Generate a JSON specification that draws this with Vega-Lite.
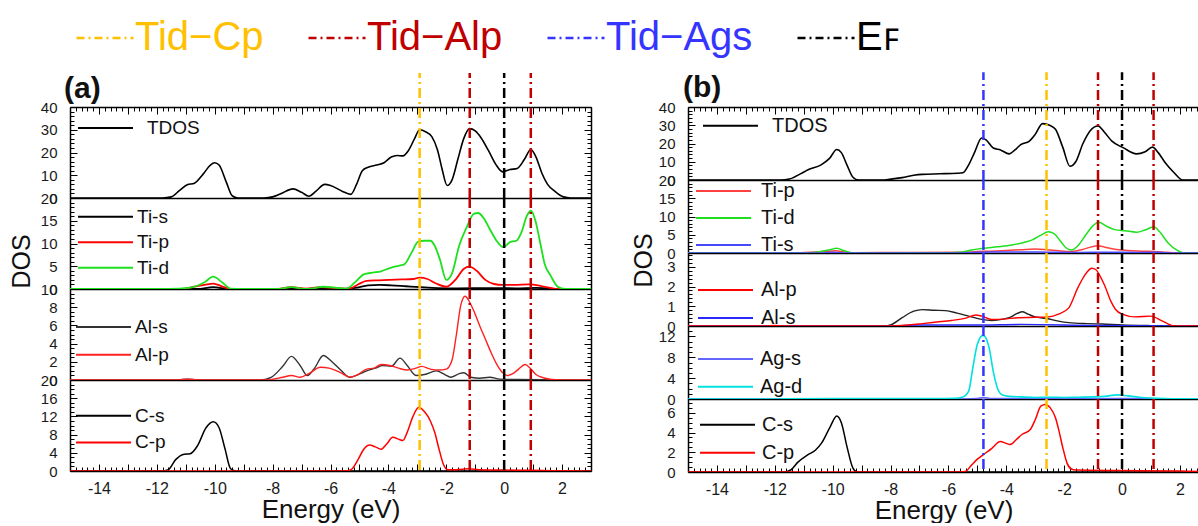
{
"$schema": "https://vega.github.io/schema/vega-lite/v6.json",
"padding": {"left": 8, "top": 8, "right": 0, "bottom": 0},
"datasets": {
"rules": [
{"p":"a","E":-2.92,"t":"Tid−Cp"},{"p":"a","E":-1.19,"t":"Tid−Alp"},{"p":"a","E":0,"t":"EF"},{"p":"a","E":0.92,"t":"Tid−Alp"},
{"p":"b","E":-4.79,"t":"Tid−Ags"},{"p":"b","E":-2.61,"t":"Tid−Cp"},{"p":"b","E":-0.83,"t":"Tid−Alp"},{"p":"b","E":0,"t":"EF"},{"p":"b","E":1.09,"t":"Tid−Alp"}
],
"dos": [
{"g":"aT","s":"TDOS","E":-15,"v":0},{"g":"aT","s":"TDOS","E":-11.8,"v":0},{"g":"aT","s":"TDOS","E":-11.5,"v":0.5},{"g":"aT","s":"TDOS","E":-11.2,"v":3.5},{"g":"aT","s":"TDOS","E":-10.95,"v":5.8},{"g":"aT","s":"TDOS","E":-10.7,"v":6.5},{"g":"aT","s":"TDOS","E":-10.4,"v":10.5},{"g":"aT","s":"TDOS","E":-10.15,"v":14.5},{"g":"aT","s":"TDOS","E":-10,"v":15.5},{"g":"aT","s":"TDOS","E":-9.85,"v":14.5},{"g":"aT","s":"TDOS","E":-9.6,"v":7},{"g":"aT","s":"TDOS","E":-9.4,"v":1},{"g":"aT","s":"TDOS","E":-9.2,"v":0},{"g":"aT","s":"TDOS","E":-8.3,"v":0},{"g":"aT","s":"TDOS","E":-8,"v":0.5},{"g":"aT","s":"TDOS","E":-7.7,"v":2},{"g":"aT","s":"TDOS","E":-7.3,"v":4},{"g":"aT","s":"TDOS","E":-7,"v":2.5},{"g":"aT","s":"TDOS","E":-6.75,"v":0.8},{"g":"aT","s":"TDOS","E":-6.5,"v":3},{"g":"aT","s":"TDOS","E":-6.2,"v":6},{"g":"aT","s":"TDOS","E":-6,"v":5.5},{"g":"aT","s":"TDOS","E":-5.6,"v":3},{"g":"aT","s":"TDOS","E":-5.3,"v":1.6},{"g":"aT","s":"TDOS","E":-5.1,"v":6},{"g":"aT","s":"TDOS","E":-4.9,"v":12},{"g":"aT","s":"TDOS","E":-4.7,"v":13.5},{"g":"aT","s":"TDOS","E":-4.4,"v":14.5},{"g":"aT","s":"TDOS","E":-4.15,"v":15.5},{"g":"aT","s":"TDOS","E":-3.9,"v":18},{"g":"aT","s":"TDOS","E":-3.7,"v":18.7},{"g":"aT","s":"TDOS","E":-3.5,"v":18.5},{"g":"aT","s":"TDOS","E":-3.3,"v":21},{"g":"aT","s":"TDOS","E":-3.1,"v":26},{"g":"aT","s":"TDOS","E":-2.92,"v":30},{"g":"aT","s":"TDOS","E":-2.7,"v":29},{"g":"aT","s":"TDOS","E":-2.5,"v":27},{"g":"aT","s":"TDOS","E":-2.3,"v":21},{"g":"aT","s":"TDOS","E":-2.15,"v":13},{"g":"aT","s":"TDOS","E":-1.97,"v":5.5},{"g":"aT","s":"TDOS","E":-1.8,"v":8},{"g":"aT","s":"TDOS","E":-1.6,"v":17},{"g":"aT","s":"TDOS","E":-1.4,"v":26},{"g":"aT","s":"TDOS","E":-1.2,"v":30.5},{"g":"aT","s":"TDOS","E":-1,"v":29.5},{"g":"aT","s":"TDOS","E":-0.8,"v":26.5},{"g":"aT","s":"TDOS","E":-0.55,"v":21},{"g":"aT","s":"TDOS","E":-0.3,"v":15},{"g":"aT","s":"TDOS","E":-0.05,"v":11.5},{"g":"aT","s":"TDOS","E":0.2,"v":12.5},{"g":"aT","s":"TDOS","E":0.45,"v":13},{"g":"aT","s":"TDOS","E":0.7,"v":17},{"g":"aT","s":"TDOS","E":0.92,"v":21.3},{"g":"aT","s":"TDOS","E":1.1,"v":18},{"g":"aT","s":"TDOS","E":1.3,"v":11},{"g":"aT","s":"TDOS","E":1.5,"v":6},{"g":"aT","s":"TDOS","E":1.75,"v":3},{"g":"aT","s":"TDOS","E":2.05,"v":0.5},{"g":"aT","s":"TDOS","E":2.3,"v":0},{"g":"aT","s":"TDOS","E":3,"v":0},

{"g":"aTi","s":"Ti-s","E":-15,"v":0},{"g":"aTi","s":"Ti-s","E":-10.6,"v":0},{"g":"aTi","s":"Ti-s","E":-10.05,"v":0.4},{"g":"aTi","s":"Ti-s","E":-9.5,"v":0},{"g":"aTi","s":"Ti-s","E":-5.6,"v":0},{"g":"aTi","s":"Ti-s","E":-5.1,"v":0.3},{"g":"aTi","s":"Ti-s","E":-4.7,"v":0.8},{"g":"aTi","s":"Ti-s","E":-4.3,"v":0.9},{"g":"aTi","s":"Ti-s","E":-3.9,"v":0.8},{"g":"aTi","s":"Ti-s","E":-3.4,"v":0.6},{"g":"aTi","s":"Ti-s","E":-2.9,"v":0.4},{"g":"aTi","s":"Ti-s","E":-2.3,"v":0.2},{"g":"aTi","s":"Ti-s","E":-1.6,"v":0.15},{"g":"aTi","s":"Ti-s","E":-0.6,"v":0.2},{"g":"aTi","s":"Ti-s","E":0.4,"v":0.15},{"g":"aTi","s":"Ti-s","E":1.1,"v":0.25},{"g":"aTi","s":"Ti-s","E":1.5,"v":0.1},{"g":"aTi","s":"Ti-s","E":1.9,"v":0},{"g":"aTi","s":"Ti-s","E":3,"v":0},

{"g":"aTi","s":"Ti-p","E":-15,"v":0},{"g":"aTi","s":"Ti-p","E":-11.1,"v":0},{"g":"aTi","s":"Ti-p","E":-10.7,"v":0.5},{"g":"aTi","s":"Ti-p","E":-10.35,"v":0.9},{"g":"aTi","s":"Ti-p","E":-10.05,"v":1.2},{"g":"aTi","s":"Ti-p","E":-9.75,"v":0.6},{"g":"aTi","s":"Ti-p","E":-9.45,"v":0},{"g":"aTi","s":"Ti-p","E":-7.9,"v":0},{"g":"aTi","s":"Ti-p","E":-7.35,"v":0.4},{"g":"aTi","s":"Ti-p","E":-6.85,"v":0.1},{"g":"aTi","s":"Ti-p","E":-6.35,"v":0.4},{"g":"aTi","s":"Ti-p","E":-5.85,"v":0.2},{"g":"aTi","s":"Ti-p","E":-5.35,"v":0.1},{"g":"aTi","s":"Ti-p","E":-5.05,"v":1},{"g":"aTi","s":"Ti-p","E":-4.75,"v":1.8},{"g":"aTi","s":"Ti-p","E":-4.35,"v":1.9},{"g":"aTi","s":"Ti-p","E":-3.95,"v":2},{"g":"aTi","s":"Ti-p","E":-3.55,"v":2.1},{"g":"aTi","s":"Ti-p","E":-3.15,"v":2.2},{"g":"aTi","s":"Ti-p","E":-2.92,"v":2.5},{"g":"aTi","s":"Ti-p","E":-2.65,"v":2.2},{"g":"aTi","s":"Ti-p","E":-2.35,"v":1.2},{"g":"aTi","s":"Ti-p","E":-2,"v":0.5},{"g":"aTi","s":"Ti-p","E":-1.65,"v":2.3},{"g":"aTi","s":"Ti-p","E":-1.4,"v":4.4},{"g":"aTi","s":"Ti-p","E":-1.2,"v":4.9},{"g":"aTi","s":"Ti-p","E":-0.95,"v":4},{"g":"aTi","s":"Ti-p","E":-0.65,"v":2},{"g":"aTi","s":"Ti-p","E":-0.35,"v":1.1},{"g":"aTi","s":"Ti-p","E":-0.05,"v":0.9},{"g":"aTi","s":"Ti-p","E":0.35,"v":0.9},{"g":"aTi","s":"Ti-p","E":0.85,"v":1},{"g":"aTi","s":"Ti-p","E":1.25,"v":0.7},{"g":"aTi","s":"Ti-p","E":1.55,"v":0.3},{"g":"aTi","s":"Ti-p","E":1.85,"v":0},{"g":"aTi","s":"Ti-p","E":3,"v":0},

{"g":"aTi","s":"Ti-d","E":-15,"v":0},{"g":"aTi","s":"Ti-d","E":-11.6,"v":0},{"g":"aTi","s":"Ti-d","E":-10.85,"v":0.3},{"g":"aTi","s":"Ti-d","E":-10.35,"v":1.5},{"g":"aTi","s":"Ti-d","E":-10.05,"v":2.7},{"g":"aTi","s":"Ti-d","E":-9.75,"v":1.5},{"g":"aTi","s":"Ti-d","E":-9.45,"v":0.1},{"g":"aTi","s":"Ti-d","E":-9.05,"v":0},{"g":"aTi","s":"Ti-d","E":-7.85,"v":0},{"g":"aTi","s":"Ti-d","E":-7.35,"v":0.4},{"g":"aTi","s":"Ti-d","E":-6.85,"v":0},{"g":"aTi","s":"Ti-d","E":-6.55,"v":0.2},{"g":"aTi","s":"Ti-d","E":-6.25,"v":0.5},{"g":"aTi","s":"Ti-d","E":-5.85,"v":0.3},{"g":"aTi","s":"Ti-d","E":-5.45,"v":0.1},{"g":"aTi","s":"Ti-d","E":-5.15,"v":1.5},{"g":"aTi","s":"Ti-d","E":-4.85,"v":3.2},{"g":"aTi","s":"Ti-d","E":-4.55,"v":3.6},{"g":"aTi","s":"Ti-d","E":-4.25,"v":3.9},{"g":"aTi","s":"Ti-d","E":-3.95,"v":4.6},{"g":"aTi","s":"Ti-d","E":-3.65,"v":5.1},{"g":"aTi","s":"Ti-d","E":-3.45,"v":5.4},{"g":"aTi","s":"Ti-d","E":-3.2,"v":8},{"g":"aTi","s":"Ti-d","E":-2.97,"v":10.4},{"g":"aTi","s":"Ti-d","E":-2.75,"v":10.6},{"g":"aTi","s":"Ti-d","E":-2.55,"v":10.6},{"g":"aTi","s":"Ti-d","E":-2.4,"v":9.5},{"g":"aTi","s":"Ti-d","E":-2.22,"v":6.5},{"g":"aTi","s":"Ti-d","E":-2,"v":2},{"g":"aTi","s":"Ti-d","E":-1.8,"v":3.5},{"g":"aTi","s":"Ti-d","E":-1.55,"v":9.6},{"g":"aTi","s":"Ti-d","E":-1.3,"v":13.5},{"g":"aTi","s":"Ti-d","E":-1.05,"v":16.5},{"g":"aTi","s":"Ti-d","E":-0.9,"v":16.7},{"g":"aTi","s":"Ti-d","E":-0.7,"v":15.5},{"g":"aTi","s":"Ti-d","E":-0.5,"v":13.2},{"g":"aTi","s":"Ti-d","E":-0.25,"v":10.5},{"g":"aTi","s":"Ti-d","E":-0.03,"v":9.2},{"g":"aTi","s":"Ti-d","E":0.2,"v":10.3},{"g":"aTi","s":"Ti-d","E":0.42,"v":10.6},{"g":"aTi","s":"Ti-d","E":0.6,"v":12.5},{"g":"aTi","s":"Ti-d","E":0.78,"v":16},{"g":"aTi","s":"Ti-d","E":0.93,"v":17.2},{"g":"aTi","s":"Ti-d","E":1.08,"v":15},{"g":"aTi","s":"Ti-d","E":1.25,"v":10},{"g":"aTi","s":"Ti-d","E":1.4,"v":5.5},{"g":"aTi","s":"Ti-d","E":1.6,"v":3},{"g":"aTi","s":"Ti-d","E":1.85,"v":0.5},{"g":"aTi","s":"Ti-d","E":2.1,"v":0},{"g":"aTi","s":"Ti-d","E":3,"v":0},

{"g":"aAl","s":"Al-s","E":-15,"v":0},{"g":"aAl","s":"Al-s","E":-11.25,"v":0},{"g":"aAl","s":"Al-s","E":-10.95,"v":0.1},{"g":"aAl","s":"Al-s","E":-10.6,"v":0},{"g":"aAl","s":"Al-s","E":-8.45,"v":0},{"g":"aAl","s":"Al-s","E":-8.05,"v":0.3},{"g":"aAl","s":"Al-s","E":-7.65,"v":1.5},{"g":"aAl","s":"Al-s","E":-7.35,"v":2.6},{"g":"aAl","s":"Al-s","E":-7.05,"v":1.6},{"g":"aAl","s":"Al-s","E":-6.8,"v":0.5},{"g":"aAl","s":"Al-s","E":-6.55,"v":1.3},{"g":"aAl","s":"Al-s","E":-6.25,"v":2.7},{"g":"aAl","s":"Al-s","E":-5.95,"v":2},{"g":"aAl","s":"Al-s","E":-5.65,"v":1.1},{"g":"aAl","s":"Al-s","E":-5.33,"v":0.3},{"g":"aAl","s":"Al-s","E":-5.05,"v":0.6},{"g":"aAl","s":"Al-s","E":-4.75,"v":1},{"g":"aAl","s":"Al-s","E":-4.45,"v":1.3},{"g":"aAl","s":"Al-s","E":-4.2,"v":1.6},{"g":"aAl","s":"Al-s","E":-3.9,"v":1.5},{"g":"aAl","s":"Al-s","E":-3.6,"v":2.4},{"g":"aAl","s":"Al-s","E":-3.35,"v":1.6},{"g":"aAl","s":"Al-s","E":-3.05,"v":0.5},{"g":"aAl","s":"Al-s","E":-2.75,"v":0.6},{"g":"aAl","s":"Al-s","E":-2.35,"v":1},{"g":"aAl","s":"Al-s","E":-2.05,"v":0.6},{"g":"aAl","s":"Al-s","E":-1.85,"v":0.3},{"g":"aAl","s":"Al-s","E":-1.55,"v":0.7},{"g":"aAl","s":"Al-s","E":-1.4,"v":0.8},{"g":"aAl","s":"Al-s","E":-1.15,"v":0.3},{"g":"aAl","s":"Al-s","E":-0.85,"v":0.2},{"g":"aAl","s":"Al-s","E":-0.5,"v":0.3},{"g":"aAl","s":"Al-s","E":-0.15,"v":0.1},{"g":"aAl","s":"Al-s","E":0.5,"v":0.05},{"g":"aAl","s":"Al-s","E":1.5,"v":0.02},{"g":"aAl","s":"Al-s","E":3,"v":0},

{"g":"aAl","s":"Al-p","E":-15,"v":0},{"g":"aAl","s":"Al-p","E":-11.25,"v":0},{"g":"aAl","s":"Al-p","E":-10.95,"v":0.1},{"g":"aAl","s":"Al-p","E":-10.6,"v":0},{"g":"aAl","s":"Al-p","E":-8.25,"v":0},{"g":"aAl","s":"Al-p","E":-7.65,"v":0.3},{"g":"aAl","s":"Al-p","E":-7.35,"v":0.5},{"g":"aAl","s":"Al-p","E":-7.05,"v":0.3},{"g":"aAl","s":"Al-p","E":-6.75,"v":0.7},{"g":"aAl","s":"Al-p","E":-6.35,"v":1.4},{"g":"aAl","s":"Al-p","E":-6.05,"v":1.3},{"g":"aAl","s":"Al-p","E":-5.65,"v":0.8},{"g":"aAl","s":"Al-p","E":-5.33,"v":0.3},{"g":"aAl","s":"Al-p","E":-5.05,"v":0.6},{"g":"aAl","s":"Al-p","E":-4.75,"v":1.2},{"g":"aAl","s":"Al-p","E":-4.5,"v":1.3},{"g":"aAl","s":"Al-p","E":-4.25,"v":1.7},{"g":"aAl","s":"Al-p","E":-3.95,"v":1.6},{"g":"aAl","s":"Al-p","E":-3.65,"v":1.3},{"g":"aAl","s":"Al-p","E":-3.35,"v":1.1},{"g":"aAl","s":"Al-p","E":-3.05,"v":1.3},{"g":"aAl","s":"Al-p","E":-2.85,"v":1.5},{"g":"aAl","s":"Al-p","E":-2.55,"v":1.2},{"g":"aAl","s":"Al-p","E":-2.25,"v":1.1},{"g":"aAl","s":"Al-p","E":-2,"v":1.2},{"g":"aAl","s":"Al-p","E":-1.8,"v":2.2},{"g":"aAl","s":"Al-p","E":-1.65,"v":5},{"g":"aAl","s":"Al-p","E":-1.5,"v":8.2},{"g":"aAl","s":"Al-p","E":-1.35,"v":9.2},{"g":"aAl","s":"Al-p","E":-1.2,"v":8.6},{"g":"aAl","s":"Al-p","E":-1.05,"v":7.6},{"g":"aAl","s":"Al-p","E":-0.85,"v":6},{"g":"aAl","s":"Al-p","E":-0.65,"v":4.5},{"g":"aAl","s":"Al-p","E":-0.45,"v":3},{"g":"aAl","s":"Al-p","E":-0.25,"v":1.7},{"g":"aAl","s":"Al-p","E":-0.05,"v":0.8},{"g":"aAl","s":"Al-p","E":0.1,"v":0.5},{"g":"aAl","s":"Al-p","E":0.3,"v":0.7},{"g":"aAl","s":"Al-p","E":0.5,"v":1.2},{"g":"aAl","s":"Al-p","E":0.72,"v":1.7},{"g":"aAl","s":"Al-p","E":0.9,"v":1.3},{"g":"aAl","s":"Al-p","E":1.1,"v":0.6},{"g":"aAl","s":"Al-p","E":1.35,"v":0.25},{"g":"aAl","s":"Al-p","E":1.65,"v":0.05},{"g":"aAl","s":"Al-p","E":1.95,"v":0},{"g":"aAl","s":"Al-p","E":3,"v":0},

{"g":"aC","s":"C-s","E":-15,"v":0},{"g":"aC","s":"C-s","E":-11.85,"v":0},{"g":"aC","s":"C-s","E":-11.6,"v":0.3},{"g":"aC","s":"C-s","E":-11.35,"v":2.5},{"g":"aC","s":"C-s","E":-11.05,"v":3.7},{"g":"aC","s":"C-s","E":-10.85,"v":3.8},{"g":"aC","s":"C-s","E":-10.6,"v":5.5},{"g":"aC","s":"C-s","E":-10.3,"v":9.5},{"g":"aC","s":"C-s","E":-10.05,"v":10.8},{"g":"aC","s":"C-s","E":-9.85,"v":9.5},{"g":"aC","s":"C-s","E":-9.65,"v":5},{"g":"aC","s":"C-s","E":-9.45,"v":0.5},{"g":"aC","s":"C-s","E":-9.25,"v":0},{"g":"aC","s":"C-s","E":3,"v":0},

{"g":"aC","s":"C-p","E":-15,"v":0},{"g":"aC","s":"C-p","E":-5.45,"v":0},{"g":"aC","s":"C-p","E":-5.25,"v":0.5},{"g":"aC","s":"C-p","E":-5.05,"v":2.5},{"g":"aC","s":"C-p","E":-4.85,"v":4.8},{"g":"aC","s":"C-p","E":-4.65,"v":5.7},{"g":"aC","s":"C-p","E":-4.45,"v":5.3},{"g":"aC","s":"C-p","E":-4.25,"v":4.8},{"g":"aC","s":"C-p","E":-4.05,"v":6},{"g":"aC","s":"C-p","E":-3.85,"v":7.4},{"g":"aC","s":"C-p","E":-3.65,"v":7},{"g":"aC","s":"C-p","E":-3.5,"v":6.7},{"g":"aC","s":"C-p","E":-3.35,"v":8.5},{"g":"aC","s":"C-p","E":-3.15,"v":12},{"g":"aC","s":"C-p","E":-2.95,"v":14},{"g":"aC","s":"C-p","E":-2.75,"v":13},{"g":"aC","s":"C-p","E":-2.55,"v":11},{"g":"aC","s":"C-p","E":-2.4,"v":8.5},{"g":"aC","s":"C-p","E":-2.25,"v":4.8},{"g":"aC","s":"C-p","E":-2.1,"v":1.5},{"g":"aC","s":"C-p","E":-1.95,"v":0.3},{"g":"aC","s":"C-p","E":-1.65,"v":0.3},{"g":"aC","s":"C-p","E":-1.25,"v":0.5},{"g":"aC","s":"C-p","E":-0.85,"v":0.3},{"g":"aC","s":"C-p","E":0,"v":0.2},{"g":"aC","s":"C-p","E":1,"v":0.15},{"g":"aC","s":"C-p","E":2,"v":0.05},{"g":"aC","s":"C-p","E":3,"v":0},

{"g":"bT","s":"TDOS","E":-15,"v":0},{"g":"bT","s":"TDOS","E":-11.8,"v":0},{"g":"bT","s":"TDOS","E":-11.5,"v":0.5},{"g":"bT","s":"TDOS","E":-11.1,"v":3.5},{"g":"bT","s":"TDOS","E":-10.85,"v":5.6},{"g":"bT","s":"TDOS","E":-10.4,"v":8.3},{"g":"bT","s":"TDOS","E":-10.1,"v":12},{"g":"bT","s":"TDOS","E":-9.86,"v":16.7},{"g":"bT","s":"TDOS","E":-9.7,"v":15},{"g":"bT","s":"TDOS","E":-9.5,"v":8},{"g":"bT","s":"TDOS","E":-9.3,"v":1.5},{"g":"bT","s":"TDOS","E":-9.1,"v":0},{"g":"bT","s":"TDOS","E":-8.3,"v":0},{"g":"bT","s":"TDOS","E":-8,"v":0.5},{"g":"bT","s":"TDOS","E":-7.6,"v":1.3},{"g":"bT","s":"TDOS","E":-7.2,"v":2.6},{"g":"bT","s":"TDOS","E":-6.9,"v":3.1},{"g":"bT","s":"TDOS","E":-6.3,"v":3.4},{"g":"bT","s":"TDOS","E":-5.7,"v":3.7},{"g":"bT","s":"TDOS","E":-5.5,"v":4},{"g":"bT","s":"TDOS","E":-5.3,"v":8.3},{"g":"bT","s":"TDOS","E":-5.1,"v":15},{"g":"bT","s":"TDOS","E":-4.85,"v":23},{"g":"bT","s":"TDOS","E":-4.7,"v":22},{"g":"bT","s":"TDOS","E":-4.45,"v":17.5},{"g":"bT","s":"TDOS","E":-4.2,"v":16.5},{"g":"bT","s":"TDOS","E":-3.9,"v":14.3},{"g":"bT","s":"TDOS","E":-3.7,"v":16.5},{"g":"bT","s":"TDOS","E":-3.5,"v":19.4},{"g":"bT","s":"TDOS","E":-3.2,"v":21.3},{"g":"bT","s":"TDOS","E":-3,"v":25},{"g":"bT","s":"TDOS","E":-2.75,"v":30.9},{"g":"bT","s":"TDOS","E":-2.5,"v":30},{"g":"bT","s":"TDOS","E":-2.3,"v":27.8},{"g":"bT","s":"TDOS","E":-2.05,"v":18},{"g":"bT","s":"TDOS","E":-1.8,"v":7.5},{"g":"bT","s":"TDOS","E":-1.6,"v":10},{"g":"bT","s":"TDOS","E":-1.35,"v":20},{"g":"bT","s":"TDOS","E":-1.1,"v":27},{"g":"bT","s":"TDOS","E":-0.83,"v":29.6},{"g":"bT","s":"TDOS","E":-0.6,"v":26},{"g":"bT","s":"TDOS","E":-0.35,"v":21.3},{"g":"bT","s":"TDOS","E":0.05,"v":17.6},{"g":"bT","s":"TDOS","E":0.5,"v":14.3},{"g":"bT","s":"TDOS","E":0.8,"v":15.5},{"g":"bT","s":"TDOS","E":1.05,"v":18},{"g":"bT","s":"TDOS","E":1.25,"v":15},{"g":"bT","s":"TDOS","E":1.5,"v":9.3},{"g":"bT","s":"TDOS","E":1.8,"v":4},{"g":"bT","s":"TDOS","E":2.1,"v":0},{"g":"bT","s":"TDOS","E":3,"v":0},

{"g":"bTi","s":"Ti-p","E":-15,"v":0},{"g":"bTi","s":"Ti-p","E":-11.2,"v":0},{"g":"bTi","s":"Ti-p","E":-10.8,"v":0.2},{"g":"bTi","s":"Ti-p","E":-10.3,"v":0.4},{"g":"bTi","s":"Ti-p","E":-9.9,"v":0.6},{"g":"bTi","s":"Ti-p","E":-9.6,"v":0.3},{"g":"bTi","s":"Ti-p","E":-9.3,"v":0.1},{"g":"bTi","s":"Ti-p","E":-7.5,"v":0.15},{"g":"bTi","s":"Ti-p","E":-5.5,"v":0.2},{"g":"bTi","s":"Ti-p","E":-5,"v":0.4},{"g":"bTi","s":"Ti-p","E":-4.5,"v":0.5},{"g":"bTi","s":"Ti-p","E":-4,"v":0.7},{"g":"bTi","s":"Ti-p","E":-3.5,"v":0.9},{"g":"bTi","s":"Ti-p","E":-3,"v":1.1},{"g":"bTi","s":"Ti-p","E":-2.6,"v":0.9},{"g":"bTi","s":"Ti-p","E":-2.2,"v":0.6},{"g":"bTi","s":"Ti-p","E":-1.8,"v":0.4},{"g":"bTi","s":"Ti-p","E":-1.4,"v":0.9},{"g":"bTi","s":"Ti-p","E":-1,"v":1.8},{"g":"bTi","s":"Ti-p","E":-0.85,"v":2},{"g":"bTi","s":"Ti-p","E":-0.6,"v":1.6},{"g":"bTi","s":"Ti-p","E":-0.25,"v":1},{"g":"bTi","s":"Ti-p","E":0.2,"v":0.7},{"g":"bTi","s":"Ti-p","E":0.7,"v":0.5},{"g":"bTi","s":"Ti-p","E":1.1,"v":0.4},{"g":"bTi","s":"Ti-p","E":1.5,"v":0.2},{"g":"bTi","s":"Ti-p","E":1.9,"v":0},{"g":"bTi","s":"Ti-p","E":3,"v":0},

{"g":"bTi","s":"Ti-d","E":-15,"v":0},{"g":"bTi","s":"Ti-d","E":-11,"v":0},{"g":"bTi","s":"Ti-d","E":-10.5,"v":0.3},{"g":"bTi","s":"Ti-d","E":-10.1,"v":0.9},{"g":"bTi","s":"Ti-d","E":-9.86,"v":1.3},{"g":"bTi","s":"Ti-d","E":-9.6,"v":0.6},{"g":"bTi","s":"Ti-d","E":-9.3,"v":0},{"g":"bTi","s":"Ti-d","E":-7.8,"v":0},{"g":"bTi","s":"Ti-d","E":-7.5,"v":0.1},{"g":"bTi","s":"Ti-d","E":-6,"v":0.1},{"g":"bTi","s":"Ti-d","E":-5.5,"v":0.3},{"g":"bTi","s":"Ti-d","E":-5.2,"v":0.8},{"g":"bTi","s":"Ti-d","E":-4.8,"v":1.3},{"g":"bTi","s":"Ti-d","E":-4.3,"v":1.7},{"g":"bTi","s":"Ti-d","E":-3.8,"v":2.2},{"g":"bTi","s":"Ti-d","E":-3.4,"v":2.9},{"g":"bTi","s":"Ti-d","E":-3.1,"v":3.6},{"g":"bTi","s":"Ti-d","E":-2.8,"v":4.9},{"g":"bTi","s":"Ti-d","E":-2.55,"v":5.8},{"g":"bTi","s":"Ti-d","E":-2.35,"v":5.3},{"g":"bTi","s":"Ti-d","E":-2.15,"v":3.5},{"g":"bTi","s":"Ti-d","E":-1.95,"v":1.5},{"g":"bTi","s":"Ti-d","E":-1.75,"v":0.8},{"g":"bTi","s":"Ti-d","E":-1.5,"v":2.2},{"g":"bTi","s":"Ti-d","E":-1.25,"v":5},{"g":"bTi","s":"Ti-d","E":-1,"v":7.5},{"g":"bTi","s":"Ti-d","E":-0.8,"v":8.4},{"g":"bTi","s":"Ti-d","E":-0.55,"v":7.4},{"g":"bTi","s":"Ti-d","E":-0.25,"v":6.4},{"g":"bTi","s":"Ti-d","E":0.1,"v":6.1},{"g":"bTi","s":"Ti-d","E":0.5,"v":5.7},{"g":"bTi","s":"Ti-d","E":0.8,"v":6.3},{"g":"bTi","s":"Ti-d","E":1.1,"v":7.2},{"g":"bTi","s":"Ti-d","E":1.3,"v":5.8},{"g":"bTi","s":"Ti-d","E":1.6,"v":2.7},{"g":"bTi","s":"Ti-d","E":1.9,"v":0.8},{"g":"bTi","s":"Ti-d","E":2.1,"v":0.1},{"g":"bTi","s":"Ti-d","E":2.3,"v":0},{"g":"bTi","s":"Ti-d","E":3,"v":0},

{"g":"bTi","s":"Ti-s","E":-15,"v":0},{"g":"bTi","s":"Ti-s","E":-10.5,"v":0},{"g":"bTi","s":"Ti-s","E":-10,"v":0.2},{"g":"bTi","s":"Ti-s","E":-9.5,"v":0},{"g":"bTi","s":"Ti-s","E":-5.5,"v":0},{"g":"bTi","s":"Ti-s","E":-5,"v":0.2},{"g":"bTi","s":"Ti-s","E":-4.5,"v":0.3},{"g":"bTi","s":"Ti-s","E":-3.5,"v":0.3},{"g":"bTi","s":"Ti-s","E":-2.5,"v":0.2},{"g":"bTi","s":"Ti-s","E":-1.5,"v":0.15},{"g":"bTi","s":"Ti-s","E":-0.5,"v":0.2},{"g":"bTi","s":"Ti-s","E":0.5,"v":0.15},{"g":"bTi","s":"Ti-s","E":1.2,"v":0.2},{"g":"bTi","s":"Ti-s","E":1.8,"v":0},{"g":"bTi","s":"Ti-s","E":3,"v":0},

{"g":"bAl","s":"Al","E":-15,"v":0},{"g":"bAl","s":"Al","E":-8.2,"v":0},{"g":"bAl","s":"Al","E":-8,"v":0.05},{"g":"bAl","s":"Al","E":-7.6,"v":0.42},{"g":"bAl","s":"Al","E":-7.2,"v":0.75},{"g":"bAl","s":"Al","E":-6.9,"v":0.83},{"g":"bAl","s":"Al","E":-6.5,"v":0.8},{"g":"bAl","s":"Al","E":-6.1,"v":0.78},{"g":"bAl","s":"Al","E":-5.7,"v":0.65},{"g":"bAl","s":"Al","E":-5.3,"v":0.5},{"g":"bAl","s":"Al","E":-4.9,"v":0.35},{"g":"bAl","s":"Al","E":-4.5,"v":0.28},{"g":"bAl","s":"Al","E":-4.1,"v":0.35},{"g":"bAl","s":"Al","E":-3.9,"v":0.42},{"g":"bAl","s":"Al","E":-3.6,"v":0.65},{"g":"bAl","s":"Al","E":-3.45,"v":0.72},{"g":"bAl","s":"Al","E":-3.25,"v":0.6},{"g":"bAl","s":"Al","E":-3,"v":0.46},{"g":"bAl","s":"Al","E":-2.6,"v":0.38},{"g":"bAl","s":"Al","E":-2.2,"v":0.25},{"g":"bAl","s":"Al","E":-1.84,"v":0.17},{"g":"bAl","s":"Al","E":-1.2,"v":0.12},{"g":"bAl","s":"Al","E":-0.69,"v":0.1},{"g":"bAl","s":"Al","E":0,"v":0.05},{"g":"bAl","s":"Al","E":1,"v":0.02},{"g":"bAl","s":"Al","E":3,"v":0},

{"g":"bAl","s":"Al-s","E":-15,"v":0},{"g":"bAl","s":"Al-s","E":-8,"v":0},{"g":"bAl","s":"Al-s","E":-7,"v":0.05},{"g":"bAl","s":"Al-s","E":-5,"v":0.05},{"g":"bAl","s":"Al-s","E":-3.5,"v":0.08},{"g":"bAl","s":"Al-s","E":-1,"v":0.03},{"g":"bAl","s":"Al-s","E":3,"v":0},

{"g":"bAl","s":"Al-p","E":-15,"v":0},{"g":"bAl","s":"Al-p","E":-12.3,"v":0},{"g":"bAl","s":"Al-p","E":-12,"v":0.03},{"g":"bAl","s":"Al-p","E":-11.7,"v":0},{"g":"bAl","s":"Al-p","E":-8.5,"v":0},{"g":"bAl","s":"Al-p","E":-7.6,"v":0.03},{"g":"bAl","s":"Al-p","E":-6.9,"v":0.12},{"g":"bAl","s":"Al-p","E":-6.4,"v":0.2},{"g":"bAl","s":"Al-p","E":-5.9,"v":0.28},{"g":"bAl","s":"Al-p","E":-5.4,"v":0.4},{"g":"bAl","s":"Al-p","E":-5.05,"v":0.56},{"g":"bAl","s":"Al-p","E":-4.85,"v":0.5},{"g":"bAl","s":"Al-p","E":-4.5,"v":0.33},{"g":"bAl","s":"Al-p","E":-4.1,"v":0.35},{"g":"bAl","s":"Al-p","E":-3.6,"v":0.42},{"g":"bAl","s":"Al-p","E":-3,"v":0.44},{"g":"bAl","s":"Al-p","E":-2.54,"v":0.46},{"g":"bAl","s":"Al-p","E":-2.2,"v":0.6},{"g":"bAl","s":"Al-p","E":-1.84,"v":0.92},{"g":"bAl","s":"Al-p","E":-1.53,"v":1.93},{"g":"bAl","s":"Al-p","E":-1.34,"v":2.45},{"g":"bAl","s":"Al-p","E":-1.2,"v":2.75},{"g":"bAl","s":"Al-p","E":-1.05,"v":2.93},{"g":"bAl","s":"Al-p","E":-0.9,"v":2.85},{"g":"bAl","s":"Al-p","E":-0.75,"v":2.5},{"g":"bAl","s":"Al-p","E":-0.6,"v":2.05},{"g":"bAl","s":"Al-p","E":-0.4,"v":1.3},{"g":"bAl","s":"Al-p","E":-0.23,"v":0.85},{"g":"bAl","s":"Al-p","E":0,"v":0.6},{"g":"bAl","s":"Al-p","E":0.46,"v":0.46},{"g":"bAl","s":"Al-p","E":0.98,"v":0.5},{"g":"bAl","s":"Al-p","E":1.4,"v":0.25},{"g":"bAl","s":"Al-p","E":1.8,"v":0},{"g":"bAl","s":"Al-p","E":3,"v":0},

{"g":"bAg","s":"Ag-s","E":-15,"v":0},{"g":"bAg","s":"Ag-s","E":-6,"v":0},{"g":"bAg","s":"Ag-s","E":-5,"v":0.1},{"g":"bAg","s":"Ag-s","E":-4.8,"v":0.3},{"g":"bAg","s":"Ag-s","E":-4.5,"v":0.1},{"g":"bAg","s":"Ag-s","E":-2,"v":0.05},{"g":"bAg","s":"Ag-s","E":0,"v":0.1},{"g":"bAg","s":"Ag-s","E":1,"v":0.05},{"g":"bAg","s":"Ag-s","E":3,"v":0},

{"g":"bAg","s":"Ag-d","E":-15,"v":0},{"g":"bAg","s":"Ag-d","E":-12,"v":0},{"g":"bAg","s":"Ag-d","E":-11.5,"v":0.05},{"g":"bAg","s":"Ag-d","E":-10,"v":0.1},{"g":"bAg","s":"Ag-d","E":-6.5,"v":0.1},{"g":"bAg","s":"Ag-d","E":-5.8,"v":0.15},{"g":"bAg","s":"Ag-d","E":-5.5,"v":0.4},{"g":"bAg","s":"Ag-d","E":-5.3,"v":1.5},{"g":"bAg","s":"Ag-d","E":-5.15,"v":6.2},{"g":"bAg","s":"Ag-d","E":-5,"v":10.5},{"g":"bAg","s":"Ag-d","E":-4.8,"v":12.2},{"g":"bAg","s":"Ag-d","E":-4.6,"v":10},{"g":"bAg","s":"Ag-d","E":-4.44,"v":5},{"g":"bAg","s":"Ag-d","E":-4.3,"v":2},{"g":"bAg","s":"Ag-d","E":-4.15,"v":0.8},{"g":"bAg","s":"Ag-d","E":-3.9,"v":0.5},{"g":"bAg","s":"Ag-d","E":-3.5,"v":0.4},{"g":"bAg","s":"Ag-d","E":-3,"v":0.3},{"g":"bAg","s":"Ag-d","E":-2.5,"v":0.35},{"g":"bAg","s":"Ag-d","E":-2,"v":0.3},{"g":"bAg","s":"Ag-d","E":-1.5,"v":0.35},{"g":"bAg","s":"Ag-d","E":-1,"v":0.4},{"g":"bAg","s":"Ag-d","E":-0.6,"v":0.5},{"g":"bAg","s":"Ag-d","E":-0.15,"v":0.8},{"g":"bAg","s":"Ag-d","E":0.2,"v":0.6},{"g":"bAg","s":"Ag-d","E":0.6,"v":0.35},{"g":"bAg","s":"Ag-d","E":1,"v":0.2},{"g":"bAg","s":"Ag-d","E":1.5,"v":0.1},{"g":"bAg","s":"Ag-d","E":3,"v":0},

{"g":"bC","s":"C-s","E":-15,"v":0},{"g":"bC","s":"C-s","E":-11.7,"v":0},{"g":"bC","s":"C-s","E":-11.45,"v":0.2},{"g":"bC","s":"C-s","E":-11.2,"v":1},{"g":"bC","s":"C-s","E":-10.85,"v":1.76},{"g":"bC","s":"C-s","E":-10.6,"v":2.2},{"g":"bC","s":"C-s","E":-10.38,"v":2.95},{"g":"bC","s":"C-s","E":-10.1,"v":4.5},{"g":"bC","s":"C-s","E":-9.86,"v":5.67},{"g":"bC","s":"C-s","E":-9.7,"v":5},{"g":"bC","s":"C-s","E":-9.5,"v":2.5},{"g":"bC","s":"C-s","E":-9.3,"v":0.4},{"g":"bC","s":"C-s","E":-9.15,"v":0},{"g":"bC","s":"C-s","E":3,"v":0},

{"g":"bC","s":"C-p","E":-15,"v":0},{"g":"bC","s":"C-p","E":-5.6,"v":0},{"g":"bC","s":"C-p","E":-5.42,"v":0.05},{"g":"bC","s":"C-p","E":-5.2,"v":0.7},{"g":"bC","s":"C-p","E":-5,"v":1.3},{"g":"bC","s":"C-p","E":-4.79,"v":1.76},{"g":"bC","s":"C-p","E":-4.5,"v":2.4},{"g":"bC","s":"C-p","E":-4.21,"v":3.1},{"g":"bC","s":"C-p","E":-4,"v":2.9},{"g":"bC","s":"C-p","E":-3.87,"v":2.78},{"g":"bC","s":"C-p","E":-3.65,"v":3.3},{"g":"bC","s":"C-p","E":-3.46,"v":3.8},{"g":"bC","s":"C-p","E":-3.17,"v":4.3},{"g":"bC","s":"C-p","E":-3,"v":5.3},{"g":"bC","s":"C-p","E":-2.8,"v":6.7},{"g":"bC","s":"C-p","E":-2.65,"v":6.85},{"g":"bC","s":"C-p","E":-2.48,"v":6.5},{"g":"bC","s":"C-p","E":-2.3,"v":5.5},{"g":"bC","s":"C-p","E":-2.19,"v":4.3},{"g":"bC","s":"C-p","E":-2.05,"v":2.5},{"g":"bC","s":"C-p","E":-1.9,"v":0.9},{"g":"bC","s":"C-p","E":-1.75,"v":0.3},{"g":"bC","s":"C-p","E":-1.6,"v":0.2},{"g":"bC","s":"C-p","E":0,"v":0.15},{"g":"bC","s":"C-p","E":2,"v":0.1},{"g":"bC","s":"C-p","E":3,"v":0}
]
},
"spacing": 38,
"resolve": {"scale": {"x": "independent", "y": "independent", "stroke": "independent", "color": "shared"}, "legend": {"stroke": "independent", "color": "shared"}},
"hconcat": [
{
"title": {"text": "(a)", "anchor": "start", "frame": "group", "fontSize": 30, "fontWeight": "bold", "offset": -32, "dx": -6, "color": "#111"},
"spacing": 0, "bounds": "flush",
"resolve": {"scale": {"x": "independent", "y": "independent", "stroke": "independent"}, "legend": {"stroke": "independent"}},
"vconcat": [
{"width": 521, "height": 91, "resolve": {"axis": {"x": "independent", "y": "independent"}},
 "layer": [
  {"data": {"name": "dos"}, "transform": [{"filter": "datum.g == 'aT'"}],
   "mark": {"type": "line", "interpolate": "monotone", "clip": true, "strokeWidth": 1.6},
   "encoding": {
    "x": {"field": "E", "type": "quantitative", "scale": {"domain": [-15, 3], "nice": false, "zero": false}, "axis": {"orient": "bottom", "domain": true, "ticks": false, "labels": false, "title": null}},
    "y": {"field": "v", "type": "quantitative", "scale": {"domain": [0, 40], "nice": false, "zero": false}, "axis": {"orient": "left", "tickCount": 20, "domain": true, "title": null, "labelOverlap": false, "labelPadding": 20, "labelExpr": "datum.value % 10 == 0 ? '' + datum.value : ''", "tickSize": {"condition": {"test": "datum.value % 10 == 0", "value": -7}, "value": -4}}},
    "stroke": {"field": "s", "type": "nominal", "scale": {"domain": ["TDOS"], "range": ["#000000"]}, "legend": {"orient": "none", "legendX": 7, "legendY": 9, "clipHeight": 24, "title": null, "symbolType": "stroke", "symbolSize": 3025, "symbolStrokeWidth": 2, "labelFontSize": 19, "labelOffset": 13}}
   }},
  {"data": {"name": "dos"}, "transform": [{"filter": "datum.g == 'aT'"}],
   "mark": {"type": "line", "opacity": 0},
   "encoding": {
    "x": {"field": "E", "type": "quantitative", "axis": {"orient": "top", "tickCount": 90, "labels": false, "title": null, "domain": true, "tickSize": {"condition": {"test": "abs(datum.value - round(datum.value)) < 0.001", "value": -7}, "value": -4}}},
    "y": {"field": "v", "type": "quantitative", "axis": {"orient": "right", "tickCount": 20, "labels": false, "title": null, "domain": true, "tickSize": {"condition": {"test": "datum.value % 10 == 0", "value": -7}, "value": -4}}}
   }},
  {"data": {"name": "rules"}, "transform": [{"filter": "datum.p == 'a'"}],
   "mark": {"type": "rule", "strokeDash": [10, 4, 2, 4], "strokeWidth": 2.5},
   "encoding": {
    "x": {"field": "E", "type": "quantitative", "axis": null},
    "y": {"datum": 0, "type": "quantitative", "axis": null},
    "y2": {"datum": 55},
    "color": {"field": "t", "type": "nominal", "scale": {"domain": ["Tid−Cp", "Tid−Alp", "Tid−Ags", "EF"], "range": ["#FFC000", "#C00000", "#3535FF", "#000000"]},
      "legend": {"orient": "none", "legendX": 5, "legendY": -99, "direction": "horizontal", "title": null, "symbolType": "stroke", "symbolSize": 3249, "symbolStrokeWidth": 2.5, "symbolDash": [8, 4, 2, 4], "labelFontSize": 40, "labelOffset": 0, "columnPadding": 39, "labelLimit": 500, "labelExpr": "datum.label == 'EF' ? 'Eꜰ' : datum.label", "encode": {"labels": {"update": {"fill": {"scale": "color", "field": "value"}}}}}}
   }}
 ]},
{"width": 521, "height": 91, "resolve": {"axis": {"x": "independent", "y": "independent"}},
 "layer": [
  {"data": {"name": "dos"}, "transform": [{"filter": "datum.g == 'aTi'"}],
   "mark": {"type": "line", "interpolate": "monotone", "clip": true, "strokeWidth": 1.8},
   "encoding": {
    "x": {"field": "E", "type": "quantitative", "scale": {"domain": [-15, 3], "nice": false, "zero": false}, "axis": {"orient": "bottom", "domain": true, "ticks": false, "labels": false, "title": null}},
    "y": {"field": "v", "type": "quantitative", "scale": {"domain": [0, 20], "nice": false, "zero": false}, "axis": {"orient": "left", "tickCount": 20, "domain": true, "labelOverlap": false, "labelPadding": 20, "labelExpr": "datum.value % 5 == 0 ? '' + datum.value : ''", "tickSize": {"condition": {"test": "datum.value % 5 == 0", "value": -7}, "value": -4}, "title": "DOS", "titleFontSize": 25, "titleX": -41, "titleY": 63, "titleBaseline": "alphabetic"}},
    "stroke": {"field": "s", "type": "nominal", "scale": {"domain": ["Ti-s", "Ti-p", "Ti-d"], "range": ["#000000", "#FF0000", "#1EE01E"]}, "legend": {"orient": "none", "legendX": 7, "legendY": 6.7, "clipHeight": 24, "rowPadding": 1.5, "direction": "vertical", "title": null, "symbolType": "stroke", "symbolSize": 3025, "symbolStrokeWidth": 2, "labelFontSize": 19, "labelOffset": 3}}
   }},
  {"data": {"name": "dos"}, "transform": [{"filter": "datum.g == 'aTi'"}],
   "mark": {"type": "line", "opacity": 0},
   "encoding": {
    "x": {"field": "E", "type": "quantitative", "axis": null},
    "y": {"field": "v", "type": "quantitative", "axis": {"orient": "right", "tickCount": 20, "labels": false, "title": null, "domain": true, "tickSize": {"condition": {"test": "datum.value % 5 == 0", "value": -7}, "value": -4}}}
   }},
  {"data": {"name": "rules"}, "transform": [{"filter": "datum.p == 'a'"}],
   "mark": {"type": "rule", "strokeDash": [10, 4, 2, 4], "strokeWidth": 2.5},
   "encoding": {
    "x": {"field": "E", "type": "quantitative", "axis": null},
    "color": {"field": "t", "type": "nominal", "scale": {"domain": ["Tid−Cp", "Tid−Alp", "Tid−Ags", "EF"], "range": ["#FFC000", "#C00000", "#3535FF", "#000000"]},
      "legend": {"orient": "none", "legendX": 5, "legendY": -99, "direction": "horizontal", "title": null, "symbolType": "stroke", "symbolSize": 3249, "symbolStrokeWidth": 2.5, "symbolDash": [8, 4, 2, 4], "labelFontSize": 40, "labelOffset": 0, "columnPadding": 39, "labelLimit": 500, "labelExpr": "datum.label == 'EF' ? 'Eꜰ' : datum.label", "encode": {"labels": {"update": {"fill": {"scale": "color", "field": "value"}}}}}}
   }}
 ]},
{"width": 521, "height": 91, "resolve": {"axis": {"x": "independent", "y": "independent"}},
 "layer": [
  {"data": {"name": "dos"}, "transform": [{"filter": "datum.g == 'aAl'"}],
   "mark": {"type": "line", "interpolate": "monotone", "clip": true, "strokeWidth": 1.4},
   "encoding": {
    "x": {"field": "E", "type": "quantitative", "scale": {"domain": [-15, 3], "nice": false, "zero": false}, "axis": {"orient": "bottom", "domain": true, "ticks": false, "labels": false, "title": null}},
    "y": {"field": "v", "type": "quantitative", "scale": {"domain": [0, 10], "nice": false, "zero": false}, "axis": {"orient": "left", "tickCount": 20, "domain": true, "title": null, "labelOverlap": false, "labelPadding": 20, "labelExpr": "datum.value % 2 == 0 ? '' + datum.value : ''", "tickSize": {"condition": {"test": "datum.value % 2 == 0", "value": -7}, "value": -4}}},
    "stroke": {"field": "s", "type": "nominal", "scale": {"domain": ["Al-s", "Al-p"], "range": ["#333333", "#FF2020"]}, "legend": {"orient": "none", "legendX": 5, "legendY": 26, "clipHeight": 24, "rowPadding": 3.7, "direction": "vertical", "title": null, "symbolType": "stroke", "symbolSize": 3025, "symbolStrokeWidth": 2, "labelFontSize": 19, "labelOffset": 3}}
   }},
  {"data": {"name": "dos"}, "transform": [{"filter": "datum.g == 'aAl'"}],
   "mark": {"type": "line", "opacity": 0},
   "encoding": {
    "x": {"field": "E", "type": "quantitative", "axis": null},
    "y": {"field": "v", "type": "quantitative", "axis": {"orient": "right", "tickCount": 20, "labels": false, "title": null, "domain": true, "tickSize": {"condition": {"test": "datum.value % 2 == 0", "value": -7}, "value": -4}}}
   }},
  {"data": {"name": "rules"}, "transform": [{"filter": "datum.p == 'a'"}],
   "mark": {"type": "rule", "strokeDash": [10, 4, 2, 4], "strokeWidth": 2.5},
   "encoding": {
    "x": {"field": "E", "type": "quantitative", "axis": null},
    "color": {"field": "t", "type": "nominal", "scale": {"domain": ["Tid−Cp", "Tid−Alp", "Tid−Ags", "EF"], "range": ["#FFC000", "#C00000", "#3535FF", "#000000"]},
      "legend": {"orient": "none", "legendX": 5, "legendY": -99, "direction": "horizontal", "title": null, "symbolType": "stroke", "symbolSize": 3249, "symbolStrokeWidth": 2.5, "symbolDash": [8, 4, 2, 4], "labelFontSize": 40, "labelOffset": 0, "columnPadding": 39, "labelLimit": 500, "labelExpr": "datum.label == 'EF' ? 'Eꜰ' : datum.label", "encode": {"labels": {"update": {"fill": {"scale": "color", "field": "value"}}}}}}
   }}
 ]},
{"width": 521, "height": 91, "resolve": {"axis": {"x": "independent", "y": "independent"}},
 "layer": [
  {"data": {"name": "dos"}, "transform": [{"filter": "datum.g == 'aC'"}],
   "mark": {"type": "line", "interpolate": "monotone", "clip": true, "strokeWidth": 1.5},
   "encoding": {
    "x": {"field": "E", "type": "quantitative", "scale": {"domain": [-15, 3], "nice": false, "zero": false}, "axis": {"orient": "bottom", "tickCount": 90, "domain": true, "title": "Energy (eV)", "titleFontSize": 26, "titlePadding": -3, "labelFontSize": 16, "labelPadding": 16, "labelOverlap": false, "labelFlush": false, "labelExpr": "abs(datum.value % 2) < 0.001 ? (datum.value < 0 ? '-' + abs(datum.value) : '' + datum.value) : ''", "tickSize": {"condition": {"test": "abs(datum.value - round(datum.value)) < 0.001", "value": -7}, "value": -4}}},
    "y": {"field": "v", "type": "quantitative", "scale": {"domain": [0, 20], "nice": false, "zero": false}, "axis": {"orient": "left", "tickCount": 20, "domain": true, "title": null, "labelOverlap": false, "labelPadding": 20, "labelExpr": "datum.value % 4 == 0 ? '' + datum.value : ''", "tickSize": {"condition": {"test": "datum.value % 4 == 0", "value": -7}, "value": -4}}},
    "stroke": {"field": "s", "type": "nominal", "scale": {"domain": ["C-s", "C-p"], "range": ["#000000", "#FF0000"]}, "legend": {"orient": "none", "legendX": 5, "legendY": 23.7, "clipHeight": 24, "rowPadding": 2.7, "direction": "vertical", "title": null, "symbolType": "stroke", "symbolSize": 3025, "symbolStrokeWidth": 2, "labelFontSize": 19, "labelOffset": 3}}
   }},
  {"data": {"name": "dos"}, "transform": [{"filter": "datum.g == 'aC'"}],
   "mark": {"type": "line", "opacity": 0},
   "encoding": {
    "x": {"field": "E", "type": "quantitative", "axis": null},
    "y": {"field": "v", "type": "quantitative", "axis": {"orient": "right", "tickCount": 20, "labels": false, "title": null, "domain": true, "tickSize": {"condition": {"test": "datum.value % 4 == 0", "value": -7}, "value": -4}}}
   }},
  {"data": {"name": "rules"}, "transform": [{"filter": "datum.p == 'a'"}],
   "mark": {"type": "rule", "strokeDash": [10, 4, 2, 4], "strokeWidth": 2.5},
   "encoding": {
    "x": {"field": "E", "type": "quantitative", "axis": null},
    "color": {"field": "t", "type": "nominal", "scale": {"domain": ["Tid−Cp", "Tid−Alp", "Tid−Ags", "EF"], "range": ["#FFC000", "#C00000", "#3535FF", "#000000"]},
      "legend": {"orient": "none", "legendX": 5, "legendY": -99, "direction": "horizontal", "title": null, "symbolType": "stroke", "symbolSize": 3249, "symbolStrokeWidth": 2.5, "symbolDash": [8, 4, 2, 4], "labelFontSize": 40, "labelOffset": 0, "columnPadding": 39, "labelLimit": 500, "labelExpr": "datum.label == 'EF' ? 'Eꜰ' : datum.label", "encode": {"labels": {"update": {"fill": {"scale": "color", "field": "value"}}}}}}
   }}
 ]}
]
},
{
"title": {"text": "(b)", "anchor": "start", "frame": "group", "fontSize": 30, "fontWeight": "bold", "offset": -32, "dx": -5, "color": "#111"},
"spacing": 0, "bounds": "flush",
"resolve": {"scale": {"x": "independent", "y": "independent", "stroke": "independent"}, "legend": {"stroke": "independent"}},
"vconcat": [
{"width": 511, "height": 73, "resolve": {"axis": {"x": "independent", "y": "independent"}},
 "layer": [
  {"data": {"name": "dos"}, "transform": [{"filter": "datum.g == 'bT'"}],
   "mark": {"type": "line", "interpolate": "monotone", "clip": true, "strokeWidth": 1.6},
   "encoding": {
    "x": {"field": "E", "type": "quantitative", "scale": {"domain": [-15, 2.66], "nice": false, "zero": false}, "axis": {"orient": "bottom", "domain": true, "ticks": false, "labels": false, "title": null}},
    "y": {"field": "v", "type": "quantitative", "scale": {"domain": [0, 40], "nice": false, "zero": false}, "axis": {"orient": "left", "tickCount": 20, "domain": true, "title": null, "labelOverlap": false, "labelPadding": 20, "labelExpr": "datum.value % 10 == 0 ? '' + datum.value : ''", "tickSize": {"condition": {"test": "datum.value % 10 == 0", "value": -7}, "value": -4}}},
    "stroke": {"field": "s", "type": "nominal", "scale": {"domain": ["TDOS"], "range": ["#000000"]}, "legend": {"orient": "none", "legendX": 14, "legendY": 6.7, "clipHeight": 24, "title": null, "symbolType": "stroke", "symbolSize": 3025, "symbolStrokeWidth": 2, "labelFontSize": 20, "labelOffset": 13}}
   }},
  {"data": {"name": "dos"}, "transform": [{"filter": "datum.g == 'bT'"}],
   "mark": {"type": "line", "opacity": 0},
   "encoding": {
    "x": {"field": "E", "type": "quantitative", "axis": {"orient": "top", "tickCount": 90, "labels": false, "title": null, "domain": true, "tickSize": {"condition": {"test": "abs(datum.value - round(datum.value)) < 0.001", "value": -7}, "value": -4}}},
    "y": {"field": "v", "type": "quantitative", "axis": null}
   }},
  {"data": {"name": "rules"}, "transform": [{"filter": "datum.p == 'b'"}],
   "mark": {"type": "rule", "strokeDash": [10, 4, 2, 4], "strokeWidth": 2.5},
   "encoding": {
    "x": {"field": "E", "type": "quantitative", "axis": null},
    "y": {"datum": 0, "type": "quantitative", "axis": null},
    "y2": {"datum": 59},
    "color": {"field": "t", "type": "nominal", "scale": {"domain": ["Tid−Cp", "Tid−Alp", "Tid−Ags", "EF"], "range": ["#FFC000", "#C00000", "#3535FF", "#000000"]},
      "legend": {"orient": "none", "legendX": 5, "legendY": -99, "direction": "horizontal", "title": null, "symbolType": "stroke", "symbolSize": 3249, "symbolStrokeWidth": 2.5, "symbolDash": [8, 4, 2, 4], "labelFontSize": 40, "labelOffset": 0, "columnPadding": 39, "labelLimit": 500, "labelExpr": "datum.label == 'EF' ? 'Eꜰ' : datum.label", "encode": {"labels": {"update": {"fill": {"scale": "color", "field": "value"}}}}}}
   }}
 ]},
{"width": 511, "height": 73, "resolve": {"axis": {"x": "independent", "y": "independent"}},
 "layer": [
  {"data": {"name": "dos"}, "transform": [{"filter": "datum.g == 'bTi'"}],
   "mark": {"type": "line", "interpolate": "monotone", "clip": true, "strokeWidth": 1.5},
   "encoding": {
    "x": {"field": "E", "type": "quantitative", "scale": {"domain": [-15, 2.66], "nice": false, "zero": false}, "axis": {"orient": "bottom", "domain": true, "ticks": false, "labels": false, "title": null}},
    "y": {"field": "v", "type": "quantitative", "scale": {"domain": [0, 20], "nice": false, "zero": false}, "axis": {"orient": "left", "tickCount": 20, "domain": true, "labelOverlap": false, "labelPadding": 20, "labelExpr": "datum.value % 5 == 0 ? '' + datum.value : ''", "tickSize": {"condition": {"test": "datum.value % 5 == 0", "value": -7}, "value": -4}, "title": "DOS", "titleFontSize": 25, "titleX": -37, "titleY": 80, "titleBaseline": "alphabetic"}},
    "stroke": {"field": "s", "type": "nominal", "scale": {"domain": ["Ti-p", "Ti-d", "Ti-s"], "range": ["#FF4040", "#1EE01E", "#4848FF"]}, "legend": {"orient": "none", "legendX": 7, "legendY": -1, "clipHeight": 24, "rowPadding": 3, "direction": "vertical", "title": null, "symbolType": "stroke", "symbolSize": 3025, "symbolStrokeWidth": 2, "labelFontSize": 20, "labelOffset": 9}}
   }},
  {"data": {"name": "rules"}, "transform": [{"filter": "datum.p == 'b'"}],
   "mark": {"type": "rule", "strokeDash": [10, 4, 2, 4], "strokeWidth": 2.5},
   "encoding": {
    "x": {"field": "E", "type": "quantitative", "axis": null},
    "color": {"field": "t", "type": "nominal", "scale": {"domain": ["Tid−Cp", "Tid−Alp", "Tid−Ags", "EF"], "range": ["#FFC000", "#C00000", "#3535FF", "#000000"]},
      "legend": {"orient": "none", "legendX": 5, "legendY": -99, "direction": "horizontal", "title": null, "symbolType": "stroke", "symbolSize": 3249, "symbolStrokeWidth": 2.5, "symbolDash": [8, 4, 2, 4], "labelFontSize": 40, "labelOffset": 0, "columnPadding": 39, "labelLimit": 500, "labelExpr": "datum.label == 'EF' ? 'Eꜰ' : datum.label", "encode": {"labels": {"update": {"fill": {"scale": "color", "field": "value"}}}}}}
   }}
 ]},
{"width": 511, "height": 73, "resolve": {"axis": {"x": "independent", "y": "independent"}},
 "layer": [
  {"data": {"name": "dos"}, "transform": [{"filter": "datum.g == 'bAl'"}],
   "mark": {"type": "line", "interpolate": "monotone", "clip": true, "strokeWidth": 1.4},
   "encoding": {
    "x": {"field": "E", "type": "quantitative", "scale": {"domain": [-15, 2.66], "nice": false, "zero": false}, "axis": {"orient": "bottom", "domain": true, "ticks": false, "labels": false, "title": null}},
    "y": {"field": "v", "type": "quantitative", "scale": {"domain": [0, 3.7], "nice": false, "zero": false}, "axis": {"orient": "left", "tickCount": 18, "domain": true, "title": null, "labelOverlap": false, "labelPadding": 20, "labelExpr": "abs(datum.value - round(datum.value)) < 0.001 ? '' + round(datum.value) : ''", "tickSize": {"condition": {"test": "abs(datum.value - round(datum.value)) < 0.001", "value": -7}, "value": -4}}},
    "stroke": {"field": "s", "type": "nominal", "scale": {"domain": ["Al-p", "Al-s", "Al"], "range": ["#FF0000", "#2828FF", "#222222"]}, "legend": {"values": ["Al-p", "Al-s"], "orient": "none", "legendX": 9, "legendY": 25, "clipHeight": 24, "rowPadding": 4, "direction": "vertical", "title": null, "symbolType": "stroke", "symbolSize": 3025, "symbolStrokeWidth": 2, "labelFontSize": 20, "labelOffset": 7}}
   }},
  {"data": {"name": "rules"}, "transform": [{"filter": "datum.p == 'b'"}],
   "mark": {"type": "rule", "strokeDash": [10, 4, 2, 4], "strokeWidth": 2.5},
   "encoding": {
    "x": {"field": "E", "type": "quantitative", "axis": null},
    "color": {"field": "t", "type": "nominal", "scale": {"domain": ["Tid−Cp", "Tid−Alp", "Tid−Ags", "EF"], "range": ["#FFC000", "#C00000", "#3535FF", "#000000"]},
      "legend": {"orient": "none", "legendX": 5, "legendY": -99, "direction": "horizontal", "title": null, "symbolType": "stroke", "symbolSize": 3249, "symbolStrokeWidth": 2.5, "symbolDash": [8, 4, 2, 4], "labelFontSize": 40, "labelOffset": 0, "columnPadding": 39, "labelLimit": 500, "labelExpr": "datum.label == 'EF' ? 'Eꜰ' : datum.label", "encode": {"labels": {"update": {"fill": {"scale": "color", "field": "value"}}}}}}
   }}
 ]},
{"width": 511, "height": 73, "resolve": {"axis": {"x": "independent", "y": "independent"}},
 "layer": [
  {"data": {"name": "dos"}, "transform": [{"filter": "datum.g == 'bAg'"}],
   "mark": {"type": "line", "interpolate": "monotone", "clip": true, "strokeWidth": 1.6},
   "encoding": {
    "x": {"field": "E", "type": "quantitative", "scale": {"domain": [-15, 2.66], "nice": false, "zero": false}, "axis": {"orient": "bottom", "domain": true, "ticks": false, "labels": false, "title": null}},
    "y": {"field": "v", "type": "quantitative", "scale": {"domain": [0, 14], "nice": false, "zero": false}, "axis": {"orient": "left", "tickCount": 14, "domain": true, "title": null, "labelOverlap": false, "labelPadding": 20, "labelExpr": "datum.value % 4 == 0 ? '' + datum.value : ''", "tickSize": {"condition": {"test": "datum.value % 4 == 0", "value": -7}, "value": -4}}},
    "stroke": {"field": "s", "type": "nominal", "scale": {"domain": ["Ag-s", "Ag-d"], "range": ["#6464FF", "#00E0E0"]}, "legend": {"orient": "none", "legendX": 9, "legendY": 21, "clipHeight": 24, "rowPadding": 3.7, "direction": "vertical", "title": null, "symbolType": "stroke", "symbolSize": 3025, "symbolStrokeWidth": 2, "labelFontSize": 20, "labelOffset": 6}}
   }},
  {"data": {"name": "rules"}, "transform": [{"filter": "datum.p == 'b'"}],
   "mark": {"type": "rule", "strokeDash": [10, 4, 2, 4], "strokeWidth": 2.5},
   "encoding": {
    "x": {"field": "E", "type": "quantitative", "axis": null},
    "color": {"field": "t", "type": "nominal", "scale": {"domain": ["Tid−Cp", "Tid−Alp", "Tid−Ags", "EF"], "range": ["#FFC000", "#C00000", "#3535FF", "#000000"]},
      "legend": {"orient": "none", "legendX": 5, "legendY": -99, "direction": "horizontal", "title": null, "symbolType": "stroke", "symbolSize": 3249, "symbolStrokeWidth": 2.5, "symbolDash": [8, 4, 2, 4], "labelFontSize": 40, "labelOffset": 0, "columnPadding": 39, "labelLimit": 500, "labelExpr": "datum.label == 'EF' ? 'Eꜰ' : datum.label", "encode": {"labels": {"update": {"fill": {"scale": "color", "field": "value"}}}}}}
   }}
 ]},
{"width": 511, "height": 73, "resolve": {"axis": {"x": "independent", "y": "independent"}},
 "layer": [
  {"data": {"name": "dos"}, "transform": [{"filter": "datum.g == 'bC'"}],
   "mark": {"type": "line", "interpolate": "monotone", "clip": true, "strokeWidth": 1.5},
   "encoding": {
    "x": {"field": "E", "type": "quantitative", "scale": {"domain": [-15, 2.66], "nice": false, "zero": false}, "axis": {"orient": "bottom", "tickCount": 90, "domain": true, "title": "Energy (eV)", "titleFontSize": 26, "titlePadding": -3, "labelFontSize": 16, "labelPadding": 16, "labelOverlap": false, "labelFlush": false, "labelExpr": "abs(datum.value % 2) < 0.001 ? (datum.value < 0 ? '-' + abs(datum.value) : '' + datum.value) : ''", "tickSize": {"condition": {"test": "abs(datum.value - round(datum.value)) < 0.001", "value": -7}, "value": -4}}},
    "y": {"field": "v", "type": "quantitative", "scale": {"domain": [0, 7.4], "nice": false, "zero": false}, "axis": {"orient": "left", "tickCount": 15, "domain": true, "title": null, "labelOverlap": false, "labelPadding": 20, "labelExpr": "abs(datum.value % 2) < 0.001 ? '' + datum.value : ''", "tickSize": {"condition": {"test": "abs(datum.value % 2) < 0.001", "value": -7}, "value": -4}}},
    "stroke": {"field": "s", "type": "nominal", "scale": {"domain": ["C-s", "C-p"], "range": ["#000000", "#FF0000"]}, "legend": {"orient": "none", "legendX": 11, "legendY": 13.7, "clipHeight": 24, "rowPadding": 4, "direction": "vertical", "title": null, "symbolType": "stroke", "symbolSize": 3025, "symbolStrokeWidth": 2, "labelFontSize": 20, "labelOffset": 6}}
   }},
  {"data": {"name": "rules"}, "transform": [{"filter": "datum.p == 'b'"}],
   "mark": {"type": "rule", "strokeDash": [10, 4, 2, 4], "strokeWidth": 2.5},
   "encoding": {
    "x": {"field": "E", "type": "quantitative", "axis": null},
    "color": {"field": "t", "type": "nominal", "scale": {"domain": ["Tid−Cp", "Tid−Alp", "Tid−Ags", "EF"], "range": ["#FFC000", "#C00000", "#3535FF", "#000000"]},
      "legend": {"orient": "none", "legendX": 5, "legendY": -99, "direction": "horizontal", "title": null, "symbolType": "stroke", "symbolSize": 3249, "symbolStrokeWidth": 2.5, "symbolDash": [8, 4, 2, 4], "labelFontSize": 40, "labelOffset": 0, "columnPadding": 39, "labelLimit": 500, "labelExpr": "datum.label == 'EF' ? 'Eꜰ' : datum.label", "encode": {"labels": {"update": {"fill": {"scale": "color", "field": "value"}}}}}}
   }}
 ]}
]
}
],
"config": {
 "font": "Liberation Sans",
 "view": {"stroke": null},
 "axis": {"grid": false, "domainColor": "#000000", "domainWidth": 1.5, "tickColor": "#000000", "tickWidth": 1, "labelColor": "#1a1a1a", "labelFontSize": 15, "labelFont": "Liberation Sans", "titleFont": "Liberation Sans", "titleColor": "#111111", "titleFontWeight": "normal"},
 "legend": {"labelFont": "Liberation Sans", "labelColor": "#111111"},
 "title": {"font": "Liberation Sans"}
}
}
